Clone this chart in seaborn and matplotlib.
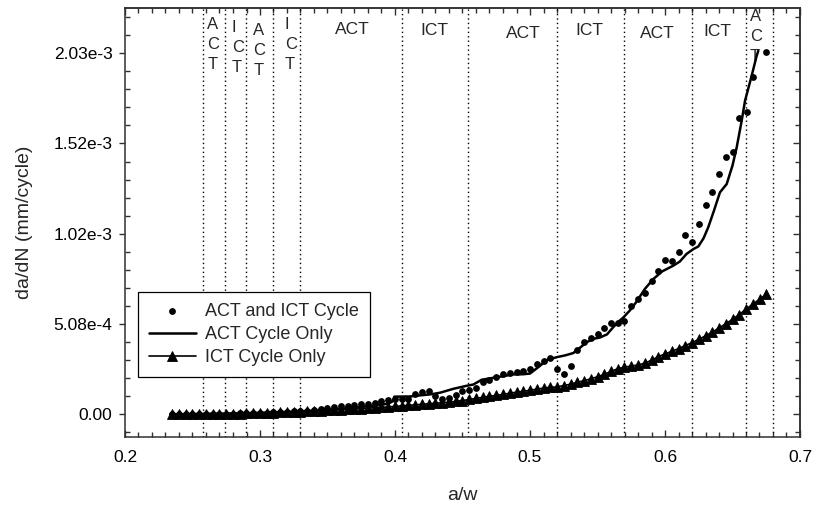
import numpy as np
import pandas as pd
import matplotlib
matplotlib.use("Agg")
import matplotlib.pyplot as plt
import matplotlib.transforms as mtransforms
from matplotlib.ticker import MultipleLocator, FixedLocator, FixedFormatter
import seaborn as sns

# ---------------------------------------------------------------- data
# crack length ratio a/w for the ICT-only test (triangles)
ict_aw = [0.235, 0.240, 0.245, 0.250, 0.255, 0.260, 0.265, 0.270, 0.275, 0.280,
          0.285, 0.290, 0.295, 0.300, 0.305, 0.310, 0.315, 0.320, 0.325, 0.330,
          0.335, 0.340, 0.345, 0.350, 0.355, 0.360, 0.365, 0.370, 0.375, 0.380,
          0.385, 0.390, 0.395, 0.400, 0.405, 0.410, 0.415, 0.420, 0.425, 0.430,
          0.435, 0.440, 0.445, 0.450, 0.455, 0.460, 0.465, 0.470, 0.475, 0.480,
          0.485, 0.490, 0.495, 0.500, 0.505, 0.510, 0.515, 0.520, 0.525, 0.530,
          0.535, 0.540, 0.545, 0.550, 0.555, 0.560, 0.565, 0.570, 0.575, 0.580,
          0.585, 0.590, 0.595, 0.600, 0.605, 0.610, 0.615, 0.620, 0.625, 0.630,
          0.635, 0.640, 0.645, 0.650, 0.655, 0.660, 0.665, 0.670, 0.675]
# da/dN in units of 1e-4 mm/cycle
ict_rate_e4 = [0.00, 0.00, 0.01, 0.01, 0.02, 0.02, 0.03, 0.03, 0.04, 0.04,
               0.05, 0.06, 0.07, 0.08, 0.09, 0.10, 0.11, 0.12, 0.14, 0.15,
               0.17, 0.19, 0.21, 0.23, 0.25, 0.27, 0.29, 0.31, 0.33, 0.35,
               0.38, 0.40, 0.42, 0.45, 0.48, 0.51, 0.54, 0.57, 0.60, 0.63,
               0.66, 0.69, 0.73, 0.78, 0.84, 0.90, 0.96, 1.02, 1.07, 1.13,
               1.19, 1.25, 1.30, 1.36, 1.42, 1.48, 1.52, 1.55, 1.62, 1.70,
               1.80, 1.90, 2.00, 2.12, 2.25, 2.42, 2.57, 2.66, 2.72, 2.78,
               2.88, 3.05, 3.25, 3.40, 3.55, 3.70, 3.87, 4.04, 4.22, 4.42,
               4.63, 4.86, 5.10, 5.35, 5.62, 5.92, 6.20, 6.48, 6.75]

# mixed ACT / ICT loading (dots)
mix_aw = [0.235, 0.240, 0.245, 0.250, 0.255, 0.260, 0.265, 0.270, 0.275, 0.280,
          0.285, 0.290, 0.295, 0.300, 0.305, 0.310, 0.315, 0.320, 0.325, 0.330,
          0.335, 0.340, 0.345, 0.350, 0.355, 0.360, 0.365, 0.370, 0.375, 0.380,
          0.385, 0.390, 0.395, 0.400, 0.405, 0.410, 0.415, 0.420, 0.425, 0.430,
          0.435, 0.440, 0.445, 0.450, 0.455, 0.460, 0.465, 0.470, 0.475, 0.480,
          0.485, 0.490, 0.495, 0.500, 0.505, 0.510, 0.515, 0.520, 0.525, 0.530,
          0.535, 0.540, 0.545, 0.550, 0.555, 0.560, 0.565, 0.570, 0.575, 0.580,
          0.585, 0.590, 0.595, 0.600, 0.605, 0.610, 0.615, 0.620, 0.625, 0.630,
          0.635, 0.640, 0.645, 0.650, 0.655, 0.661, 0.665, 0.675]
mix_rate_e4 = [0.00, 0.01, 0.01, 0.02, 0.02, 0.03, 0.03, 0.04, 0.05, 0.05,
               0.06, 0.07, 0.08, 0.09, 0.10, 0.12, 0.13, 0.15, 0.17, 0.19,
               0.22, 0.26, 0.31, 0.36, 0.41, 0.45, 0.50, 0.54, 0.58, 0.61,
               0.67, 0.75, 0.81, 0.85, 0.88, 0.89, 1.15, 1.25, 1.29, 1.05,
               0.88, 0.95, 1.12, 1.30, 1.38, 1.48, 1.80, 1.95, 2.12, 2.29,
               2.32, 2.37, 2.45, 2.57, 2.85, 3.00, 3.16, 2.54, 2.25, 2.75,
               3.60, 4.06, 4.28, 4.53, 4.86, 5.16, 5.15, 5.26, 6.10, 6.50,
               6.82, 7.49, 8.09, 8.69, 8.65, 9.16, 10.10, 9.68, 10.72, 11.80,
               12.49, 13.53, 14.46, 14.74, 16.67, 16.99, 19.00, 20.40]

# ACT-only loading (solid curve)
act_aw = [0.235, 0.250, 0.270, 0.290, 0.310, 0.330, 0.350, 0.370, 0.385, 0.395,
          0.3985, 0.3995, 0.411, 0.4185, 0.4265, 0.4333, 0.4432, 0.453, 0.458, 0.4642,
          0.4728, 0.480, 0.4876, 0.495, 0.500, 0.506, 0.5124, 0.5198, 0.526, 0.532,
          0.537, 0.542, 0.547, 0.5519, 0.557, 0.5617, 0.566, 0.5691, 0.574, 0.579,
          0.585, 0.5914, 0.598, 0.6062, 0.611, 0.616, 0.621, 0.6247, 0.6285, 0.632,
          0.636, 0.6407, 0.6457, 0.650, 0.6531, 0.6568, 0.6593, 0.6642, 0.6679, 0.6691]
act_rate_e4 = [0.00, 0.02, 0.04, 0.07, 0.11, 0.17, 0.26, 0.38, 0.50, 0.60,
               0.75, 1.00, 1.01, 1.07, 1.13, 1.22, 1.44, 1.61, 1.68, 1.95,
               2.06, 2.15, 2.25, 2.26, 2.30, 2.65, 3.05, 3.22, 3.32, 3.45,
               3.75, 4.06, 4.25, 4.33, 4.50, 4.91, 5.25, 5.45, 5.85, 6.35,
               7.05, 7.62, 8.05, 8.37, 8.60, 9.03, 9.30, 9.45, 9.90, 10.52,
               11.40, 12.49, 12.96, 14.00, 15.02, 16.52, 17.65, 19.05, 20.17, 20.45]

# loading-block boundaries and their labels
block_edges = [0.2576, 0.274, 0.29, 0.31, 0.33, 0.405, 0.454, 0.52, 0.57, 0.62, 0.66, 0.68]
block_labels = ["A\nC\nT", "I\nC\nT", "A\nC\nT", "I\nC\nT", "ACT", "ICT",
                "ACT", "ICT", "ACT", "ICT", "A\nC\nT"]
block_label_x = [0.2610, 0.2790, 0.2951, 0.3185, 0.3685, 0.4289,
                 0.4950, 0.5442, 0.5944, 0.6389, 0.6630]
block_label_top = [0.978, 0.971, 0.965, 0.978, 0.968, 0.964,
                   0.957, 0.966, 0.959, 0.962, 0.997]

x_ticks = [0.2, 0.3, 0.4, 0.5, 0.6, 0.7]
x_ticklabels = ["0.2", "0.3", "0.4", "0.5", "0.6", "0.7"]
y_ticks = [0.0, 5.08e-4, 1.016e-3, 1.524e-3, 2.032e-3]
y_ticklabels = ["0.00", "5.08e-4", "1.02e-3", "1.52e-3", "2.03e-3"]

series_names = ["ACT and ICT Cycle", "ACT Cycle Only", "ICT Cycle Only"]

# ---------------------------------------------------------------- style
sns.set_theme(style="ticks")
plt.rcParams["font.family"] = ["Liberation Sans", "DejaVu Sans"]
plt.rcParams["axes.edgecolor"] = "#303030"
plt.rcParams["axes.linewidth"] = 1.1
plt.rcParams["xtick.color"] = "#303030"
plt.rcParams["ytick.color"] = "#303030"
plt.rcParams["xtick.labelcolor"] = "black"
plt.rcParams["ytick.labelcolor"] = "black"

fig = plt.figure(figsize=(8.14, 5.08), dpi=100)
ax = fig.add_axes([125 / 814, 71 / 508, 675 / 814, 429 / 508])

mix = pd.DataFrame({"aw": mix_aw, "rate": np.array(mix_rate_e4) * 1e-4})
act = pd.DataFrame({"aw": act_aw, "rate": np.array(act_rate_e4) * 1e-4})
ict = pd.DataFrame({"aw": ict_aw, "rate": np.array(ict_rate_e4) * 1e-4})

# block boundaries
for xb in block_edges:
    ax.axvline(xb, color="black", lw=1.0, ls=(0, (1, 2.2)), zorder=1)

sns.lineplot(data=act, x="aw", y="rate", ax=ax, color="black", lw=1.8,
             estimator=None, sort=False, label=series_names[1], zorder=3)
sns.scatterplot(data=mix, x="aw", y="rate", ax=ax, color="black", s=24,
                marker="o", edgecolor="black", linewidth=0,
                label=series_names[0], zorder=4)
sns.lineplot(data=ict, x="aw", y="rate", ax=ax, color="black", lw=1.2,
             marker="^", markersize=6.8, markeredgecolor="black",
             markeredgewidth=0.6, estimator=None, sort=False,
             label=series_names[2], zorder=5)

# block labels
trans = mtransforms.blended_transform_factory(ax.transData, ax.transAxes)
for txt, xl, yt in zip(block_labels, block_label_x, block_label_top):
    if "\n" in txt:
        ax.text(xl, yt, txt, transform=trans, ha="left", va="top",
                fontsize=12, linespacing=1.4, multialignment="left", zorder=2)
    else:
        ax.text(xl, yt, txt, transform=trans, ha="center", va="top",
                fontsize=12.5, zorder=2)

# axes limits and ticks
ax.set_xlim(0.2, 0.7)
ax.set_ylim(-0.25 * 5.08e-4, 4.5 * 5.08e-4)
ax.xaxis.set_major_locator(FixedLocator(x_ticks))
ax.xaxis.set_major_formatter(FixedFormatter(x_ticklabels))
ax.xaxis.set_minor_locator(MultipleLocator(0.01))
ax.yaxis.set_major_locator(FixedLocator(y_ticks))
ax.yaxis.set_major_formatter(FixedFormatter(y_ticklabels))
ax.yaxis.set_minor_locator(MultipleLocator(1.016e-4))

ax.tick_params(axis="x", which="major", direction="in", length=5, width=1.0,
               labelsize=12.5, pad=9)
ax.tick_params(axis="x", which="minor", direction="in", length=3.5, width=1.0)
ax.tick_params(axis="y", which="major", direction="out", length=4, width=1.0,
               labelsize=12.5, pad=5)
ax.tick_params(axis="y", which="minor", direction="in", length=3.5, width=1.0)

top = ax.secondary_xaxis("top")
top.xaxis.set_major_locator(FixedLocator(x_ticks))
top.xaxis.set_minor_locator(MultipleLocator(0.01))
top.tick_params(which="major", direction="in", length=5, width=1.0, labeltop=False)
top.tick_params(which="minor", direction="in", length=3.5, width=1.0)

right = ax.secondary_yaxis("right")
right.yaxis.set_major_locator(FixedLocator(y_ticks))
right.yaxis.set_minor_locator(MultipleLocator(1.016e-4))
right.tick_params(which="major", direction="in", length=5, width=1.0, labelright=False)
right.tick_params(which="minor", direction="in", length=3.5, width=1.0)

ax.set_xlabel("a/w", fontsize=14, labelpad=16)
ax.set_ylabel("da/dN (mm/cycle)", fontsize=14, labelpad=15)

# legend in the drawing order of the series names
handles, labels = ax.get_legend_handles_labels()
lookup = dict(zip(labels, handles))
leg = ax.legend([lookup[n] for n in series_names], series_names,
                loc="upper left", bbox_to_anchor=(0.0193, 0.338),
                borderaxespad=0, frameon=True, fancybox=False,
                edgecolor="black", framealpha=1, fontsize=13,
                handlelength=2.6, handletextpad=0.5, labelspacing=0.35,
                borderpad=0.6, scatterpoints=1, numpoints=1)
leg.get_frame().set_linewidth(0.9)

fig.savefig("out.png", dpi=100)
